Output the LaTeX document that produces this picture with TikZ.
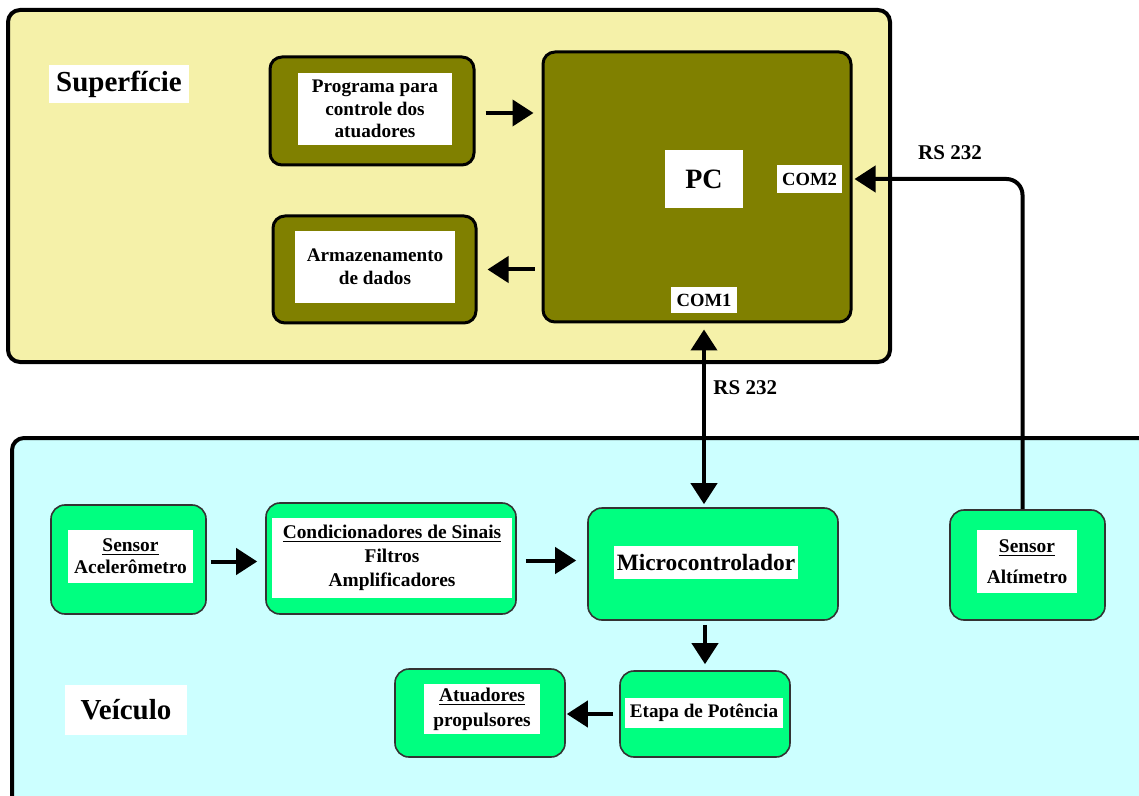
\documentclass[tikz,border=0pt]{standalone}
\usepackage{fontspec}
\setmainfont{Liberation Serif}
\usetikzlibrary{arrows.meta,calc}
\definecolor{paleyellow}{HTML}{F5F1A9}
\definecolor{palecyan}{HTML}{CCFFFF}
\definecolor{oliveb}{HTML}{808000}
\definecolor{sgreen}{HTML}{00FF80}
\tikzset{
  outerbox/.style={draw, line width=2pt, rounded corners=6pt, inner sep=0pt},
  olivebox/.style={draw, fill=oliveb, line width=1.5pt, rounded corners=6pt, inner sep=0pt},
  greenbox/.style={draw=black!80, fill=sgreen, line width=0.8pt, rounded corners=7pt, inner sep=0pt},
  wlabel/.style={fill=white, inner sep=0pt, align=center, font=\bfseries\fontsize{9.7}{12}\selectfont},
  conn/.style={line width=2pt, -{Triangle[length=10.5pt,width=13pt]}},
  dconn/.style={line width=2pt, {Triangle[length=10.5pt,width=13pt]}-{Triangle[length=10.5pt,width=13pt]}},
  plain/.style={inner sep=0pt, font=\bfseries\fontsize{10.5}{12}\selectfont}
}
\begin{document}
\begin{tikzpicture}[x=0.5pt,y=-0.5pt]
\useasboundingbox (0,0) rectangle (1139,796);
\clip (0,0) rectangle (1139,796);
\fill[white] (0,0) rectangle (1139,796);
% outer regions
\node[outerbox, fill=paleyellow, minimum width=441pt, minimum height=176pt] (sup) at (449,186) {};
\node[outerbox, fill=palecyan, minimum width=569pt, minimum height=186pt] (vei) at (581,624) {};
\node[wlabel, minimum width=70pt, minimum height=19pt, font=\bfseries\fontsize{14.5}{16}\selectfont] (suplbl) at (119,84) {Superfície};
\node[wlabel, minimum width=61pt, minimum height=25pt, font=\bfseries\fontsize{14.5}{16}\selectfont] (veilbl) at (126,710) {Veículo};
% surface blocks
\node[olivebox, minimum width=102pt, minimum height=54pt] (prog) at (372,111) {};
\node[wlabel, minimum width=77pt, minimum height=36pt, font=\bfseries\fontsize{9.6}{11.3}\selectfont] (progt) at (375,109) {Programa para\\controle dos\\atuadores};
\node[olivebox, minimum width=101.5pt, minimum height=53.5pt] (arm) at (374.5,269.5) {};
\node[wlabel, minimum width=80pt, minimum height=36pt, font=\bfseries\fontsize{9.6}{11.3}\selectfont] (armt) at (375,267) {Armazenamento\\de dados};
\node[olivebox, minimum width=154pt, minimum height=135pt] (pc) at (697,187) {};
\node[wlabel, minimum width=39pt, minimum height=29pt, font=\bfseries\fontsize{14}{16}\selectfont] (pct) at (704,179) {PC};
\node[wlabel, minimum width=32.5pt, minimum height=14pt, font=\bfseries\fontsize{9.3}{11}\selectfont] (com2) at (809.5,179) {COM2};
\node[wlabel, minimum width=33pt, minimum height=13pt, font=\bfseries\fontsize{9.3}{11}\selectfont] (com1) at (704,300) {COM1};
% vehicle blocks
\node[greenbox, minimum width=77.5pt, minimum height=54.5pt] (acc) at (128.5,559.5) {};
\node[wlabel, minimum width=62.5pt, minimum height=26.5pt, font=\bfseries\fontsize{9.7}{11}\selectfont] (acct) at (130.5,556.5) {\underline{Sensor}\\Acelerômetro};
\node[greenbox, minimum width=125pt, minimum height=55.5pt] (cond) at (391,558.5) {};
\node[wlabel, minimum width=120pt, minimum height=40pt] (condt) at (392,558) {\underline{Condicionadores de Sinais}\\Filtros\\Amplificadores};
\node[greenbox, minimum width=125pt, minimum height=56pt] (micro) at (713,564) {};
\node[wlabel, minimum width=92pt, minimum height=16.5pt, font=\bfseries\fontsize{11.7}{14}\selectfont] (microt) at (706,562.5) {Microcontrolador};
\node[greenbox, minimum width=85pt, minimum height=43pt] (etapa) at (705,714) {};
\node[wlabel, minimum width=79pt, minimum height=15pt, font=\bfseries\fontsize{9.6}{11}\selectfont] (etapat) at (704,713) {Etapa de Potência};
\node[greenbox, minimum width=85pt, minimum height=44pt] (atu) at (480,713) {};
\node[wlabel, minimum width=58pt, minimum height=25pt, font=\bfseries\fontsize{9.7}{12.5}\selectfont] (atut) at (482,709) {\underline{Atuadores}\\propulsores};
\node[greenbox, minimum width=77.5pt, minimum height=55pt] (alt) at (1027.5,565) {};
\node[wlabel, minimum width=50pt, minimum height=31.5pt, font=\bfseries\fontsize{9.7}{11}\selectfont] (altt) at (1027,561.5) {\underline{Sensor}\\[4.5pt]Altímetro};
% connectors
\draw[conn, shorten <=5pt, shorten >=4pt] ([yshift=-1pt]prog.east) -- ([yshift=-1pt]prog.east -| pc.west);
\draw[conn, shorten <=3.5pt, shorten >=5pt] (pc.west |- arm.east) -- (arm.east);
\draw[dconn, shorten <=3pt, shorten >=1.5pt] (com1.south |- pc.south) -- (com1.south |- micro.north);
\draw[conn, shorten <=2pt, shorten >=3pt] (etapa.north |- micro.south) -- (etapa.north);
\draw[conn, shorten <=3pt, shorten >=0.5pt] (etapa.west) -- (etapa.west -| atu.east);
\draw[conn, shorten <=2pt, shorten >=4pt] ([yshift=-1pt]acc.east) -- ([yshift=-1pt]acc.east -| cond.west);
\draw[conn, shorten <=4.5pt, shorten >=5.5pt] ([yshift=-1pt]cond.east) -- ([yshift=-1pt]cond.east -| micro.west);
\draw[conn, rounded corners=8pt, shorten >=1pt] ([xshift=-2.5pt]alt.north) |- (pc.east |- com2);
% labels
\node[plain, anchor=west] (rs1) at (713,388) {RS 232};
\node[plain] (rs2) at (950,153) {RS 232};
\end{tikzpicture}
\end{document}
